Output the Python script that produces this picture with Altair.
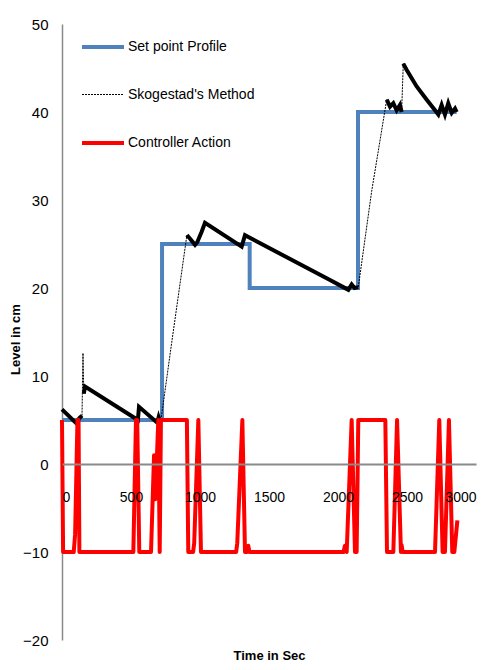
import altair as alt
import pandas as pd

series_names = ["Set point Profile", "Skogestad's Method", "Controller Action"]
series_colors = ["#4F81BD", "#000000", "#FF0000"]

# Set point profile (step-after)
sp_t = [0, 725, 1360, 2145, 2860]
sp_v = [5, 25, 20, 40, 40]

# Skogestad's method response
sk_t = [0, 105, 125, 145,
        152,
        158, 167, 550, 558, 690, 700, 710, 718,
        795,
        905, 928, 964, 980, 1012, 1036, 1302, 1326, 1942, 2038, 2075, 2099, 2120, 2147,
        2244,
        2353, 2377, 2401, 2425, 2449, 2461,
        2473, 2497, 2570, 2643, 2703, 2727, 2751, 2775, 2799, 2824, 2848, 2860]
sk_v = [6.2, 4.6, 5.2, 5.5,
        12.6,
        8.0, 8.8, 5.0, 6.5, 4.7, 5.3, 4.8, 5.1,
        13.8,
        26.0, 25.6, 24.9, 25.2, 26.4, 27.4, 24.7, 26.0, 20.9, 20.1, 19.8, 20.4, 20.0, 20.1,
        31.0,
        41.4, 40.6, 41.0, 40.2, 40.8, 40.0,
        45.5, 44.8, 42.9, 41.4, 40.2, 39.7, 40.8, 39.7, 41.0, 39.9, 40.4, 40.0]
sk_phase = (["hold1a"] * 4 + ["spike"] + ["hold1b"] * 8 + ["rise"] +
            ["hold2"] * 14 + ["rise"] + ["hold3a"] * 6 + ["hold3b"] * 12)

# Controller action
ca_t = [0, 8, 85, 95, 112, 120, 126, 517, 536, 545, 560, 645, 667, 676, 698, 708, 717,
        905, 915, 950, 958, 988, 1007, 1262, 1270, 1307, 1326, 1342, 1350, 1358,
        2040, 2050, 2063, 2099, 2123, 2135, 2147, 2343, 2355, 2401, 2428, 2456,
        2461, 2468, 2703, 2734, 2758, 2775, 2804, 2828, 2843, 2865]
ca_v = [5, -10, -10, -8, 5, 5, -10, -10, 5, 5, -10, -10, 1, -4, 5, -10, 5,
        5, -10, -10, -9, 5, -10, -10, -9, 5, -10, -10, -9.3, -10,
        -10, -9.3, -10, 5, -10, -10, 5, 5, -10, -10, 5, -10,
        -9.2, -10, -10, 5, -10, -10, 5, -10, -10, -6.4]

sp_df = pd.DataFrame({"t": sp_t, "v": sp_v, "series": series_names[0]})
sk_df = pd.DataFrame({"t": sk_t, "v": sk_v, "series": series_names[1], "phase": sk_phase,
                      "order": list(range(len(sk_t)))})
ca_df = pd.DataFrame({"t": ca_t, "v": ca_v, "series": series_names[2],
                      "order": list(range(len(ca_t)))})

FONT = "Liberation Sans, Arial, sans-serif"

x_enc = alt.X("t:Q",
              scale=alt.Scale(domain=[0, 3000], nice=False, zero=False),
              axis=alt.Axis(values=[0, 500, 1000, 1500, 2000, 2500, 3000], format="d",
                            offset=-176, labelPadding=26, ticks=False, grid=False,
                            domainColor="#8A8A8A", domainWidth=2, zindex=1,
                            labelFont=FONT, labelFontSize=14, labelColor="#000000",
                            title="Time in Sec", titleFont=FONT, titleFontSize=13,
                            titleFontWeight="bold", titleColor="#000000",
                            titleY=185, titleBaseline="top"))
y_enc = alt.Y("v:Q",
              scale=alt.Scale(domain=[-20, 50], nice=False, zero=False),
              axis=alt.Axis(values=[-20, -10, 0, 10, 20, 30, 40, 50],
                            labelPadding=14, ticks=False, grid=False,
                            domainColor="#8A8A8A", domainWidth=1.5,
                            labelFont=FONT, labelFontSize=15, labelColor="#000000",
                            title="Level in cm", titleFont=FONT, titleFontSize=13,
                            titleFontWeight="bold", titleColor="#000000",
                            titleX=-40, titleY=315))

color_enc = alt.Color("series:N",
                      scale=alt.Scale(domain=series_names, range=series_colors),
                      legend=alt.Legend(title=None, orient="none", legendX=18, legendY=0,
                                        symbolType="stroke", symbolSize=1764,
                                        labelFont=FONT, labelFontSize=14,
                                        labelColor="#000000", labelOffset=2,
                                        rowPadding=18, padding=0, labelLimit=300))
dash_enc = alt.StrokeDash("series:N",
                          scale=alt.Scale(domain=series_names,
                                          range=[[1, 0], [2, 1], [1, 0]]),
                          legend=alt.Legend(title=None))
width_enc = alt.StrokeWidth("series:N",
                            scale=alt.Scale(type="ordinal", domain=series_names,
                                            range=[4, 1, 4]),
                            legend=alt.Legend(title=None))

setpoint = alt.Chart(sp_df).mark_line(interpolate="step-after").encode(
    x=x_enc, y=y_enc, color=color_enc, strokeDash=dash_enc, strokeWidth=width_enc)

skog_thin = alt.Chart(sk_df).mark_line().encode(
    x=x_enc, y=y_enc, order="order:Q",
    color=color_enc, strokeDash=dash_enc, strokeWidth=width_enc)

skog_thick = alt.Chart(sk_df).transform_filter(
    "indexof(datum.phase, 'hold') === 0"
).mark_line(color="#000000", strokeWidth=4).encode(
    x="t:Q", y="v:Q", detail="phase:N", order="order:Q")

controller = alt.Chart(ca_df).mark_line(strokeJoin="round").encode(
    x=x_enc, y=y_enc, order="order:Q",
    color=color_enc, strokeDash=dash_enc, strokeWidth=width_enc)

chart = alt.layer(setpoint, skog_thin, skog_thick, controller).properties(
    width=414, height=616,
    autosize=alt.AutoSizeParams(type="none"),
    padding={"left": 54, "top": 16, "right": 11, "bottom": 22},
    background="#FFFFFF",
).configure_view(strokeWidth=0)

chart.save("out.html", embed_options={"renderer": "svg", "actions": False})
